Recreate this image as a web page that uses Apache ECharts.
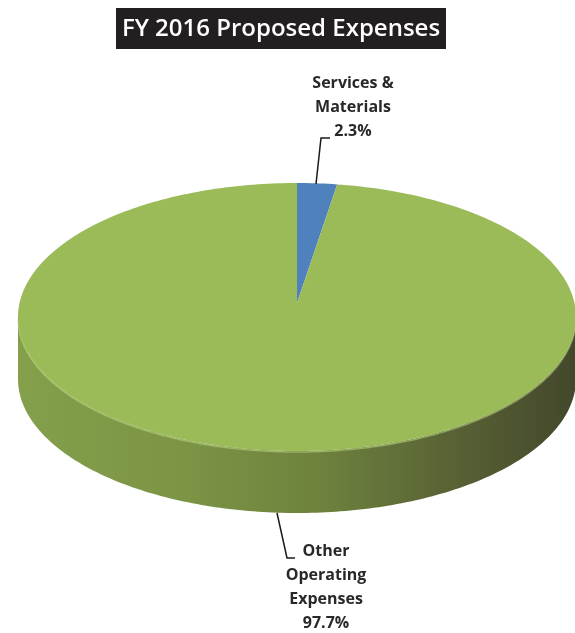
<!DOCTYPE html>
<html><head><meta charset="utf-8">
<script src="https://cdn.jsdelivr.net/npm/echarts@6/dist/echarts.min.js"></script>
<style>html,body{margin:0;padding:0;background:#fff}#c{width:575px;height:633px}</style>
</head><body><div id="c"></div>
<script>
// ---- data ----
const titleText = 'FY 2016 Proposed Expenses';
const categories = ['Services &\nMaterials', 'Other\nOperating\nExpenses'];
const values = [2.3, 97.7];

// ---- layout / style ----
const sliceColors = ['#4f81bd', '#9bbb59'];
const pie = { cx: 297, cy: 317, rx: 279, ry: 134, depth: 62, apexDy: -14 };
const labelLayout = [
  { x: 353, y: 71, line: [[316, 184], [321, 138], [330, 138]] },
  { x: 326, y: 539, line: [[277, 513], [287, 558], [295, 558]] }
];
const FONT = '"Open Sans", "DejaVu Sans", sans-serif';

const total = values.reduce((a, b) => a + b, 0);
const starts = [];
{ let acc = 0; values.forEach(v => { starts.push(acc); acc += v; }); }

function pt(theta, dy) {
  return [pie.cx + pie.rx * Math.sin(theta), pie.cy - pie.ry * Math.cos(theta) + (dy || 0)];
}
function arcPoints(a, b, dy) {
  const n = Math.max(2, Math.ceil((b - a) / (Math.PI / 180)));
  const pts = [];
  for (let i = 0; i <= n; i++) pts.push(pt(a + (b - a) * i / n, dy));
  return pts;
}

function renderSide(params, api) {
  const i = params.dataIndex;
  const v = api.value(0);
  const a = starts[i] / total * 2 * Math.PI;
  const b = a + v / total * 2 * Math.PI;
  const lo = Math.max(a, Math.PI / 2), hi = Math.min(b, 3 * Math.PI / 2);
  if (hi <= lo) return null;
  const top = arcPoints(lo, hi, 0);
  const bot = arcPoints(lo, hi, pie.depth).reverse();
  return {
    type: 'group',
    children: [
      { type: 'polygon', shape: { points: top.concat(bot) },
        style: {
          fill: new echarts.graphic.LinearGradient(0, 0, 1, 0, [
            { offset: 0, color: '#84a04b' },
            { offset: 0.3, color: '#7b9445' },
            { offset: 0.55, color: '#6d813d' },
            { offset: 0.8, color: '#565f34' },
            { offset: 1, color: '#43482b' }
          ])
        } },
      { type: 'polyline', shape: { points: arcPoints(lo, hi, 1) },
        style: { stroke: 'rgba(190,215,130,0.55)', lineWidth: 1.5, fill: null } }
    ]
  };
}

function renderTop(params, api) {
  const i = params.dataIndex;
  const v = api.value(0);
  const a = starts[i] / total * 2 * Math.PI;
  const b = a + v / total * 2 * Math.PI;
  const pts = [[pie.cx, pie.cy + pie.apexDy]].concat(arcPoints(a, b, 0));
  const L = labelLayout[i];
  return {
    type: 'group',
    children: [
      { type: 'polygon', shape: { points: pts }, style: { fill: sliceColors[i] } },
      { type: 'polyline', shape: { points: L.line }, style: { stroke: '#1a1a1a', lineWidth: 1.5, fill: null } },
      { type: 'text', style: {
          text: categories[i] + '\n' + v.toFixed(1) + '%',
          x: L.x, y: L.y, align: 'center', verticalAlign: 'top',
          fill: '#282828', fontSize: 16, fontWeight: 'bold', fontFamily: FONT, lineHeight: 24
      } }
    ]
  };
}

const chart = echarts.init(document.getElementById('c'), null, { renderer: 'canvas' });
chart.setOption({
  backgroundColor: '#ffffff',
  animation: false,
  graphic: [
    { type: 'rect', shape: { x: 116, y: 8, width: 330, height: 41 }, style: { fill: '#231f20' } },
    { type: 'text', style: { text: titleText, x: 281, y: 29, align: 'center', verticalAlign: 'middle',
        fill: '#ffffff', fontSize: 24, fontWeight: 600, fontFamily: FONT } }
  ],
  series: [
    { type: 'custom', coordinateSystem: 'none', z: 1, renderItem: renderSide,
      data: values.map(v => [v]) },
    { type: 'custom', coordinateSystem: 'none', z: 2, renderItem: renderTop,
      data: values.map(v => [v]) }
  ]
});
</script></body></html>
